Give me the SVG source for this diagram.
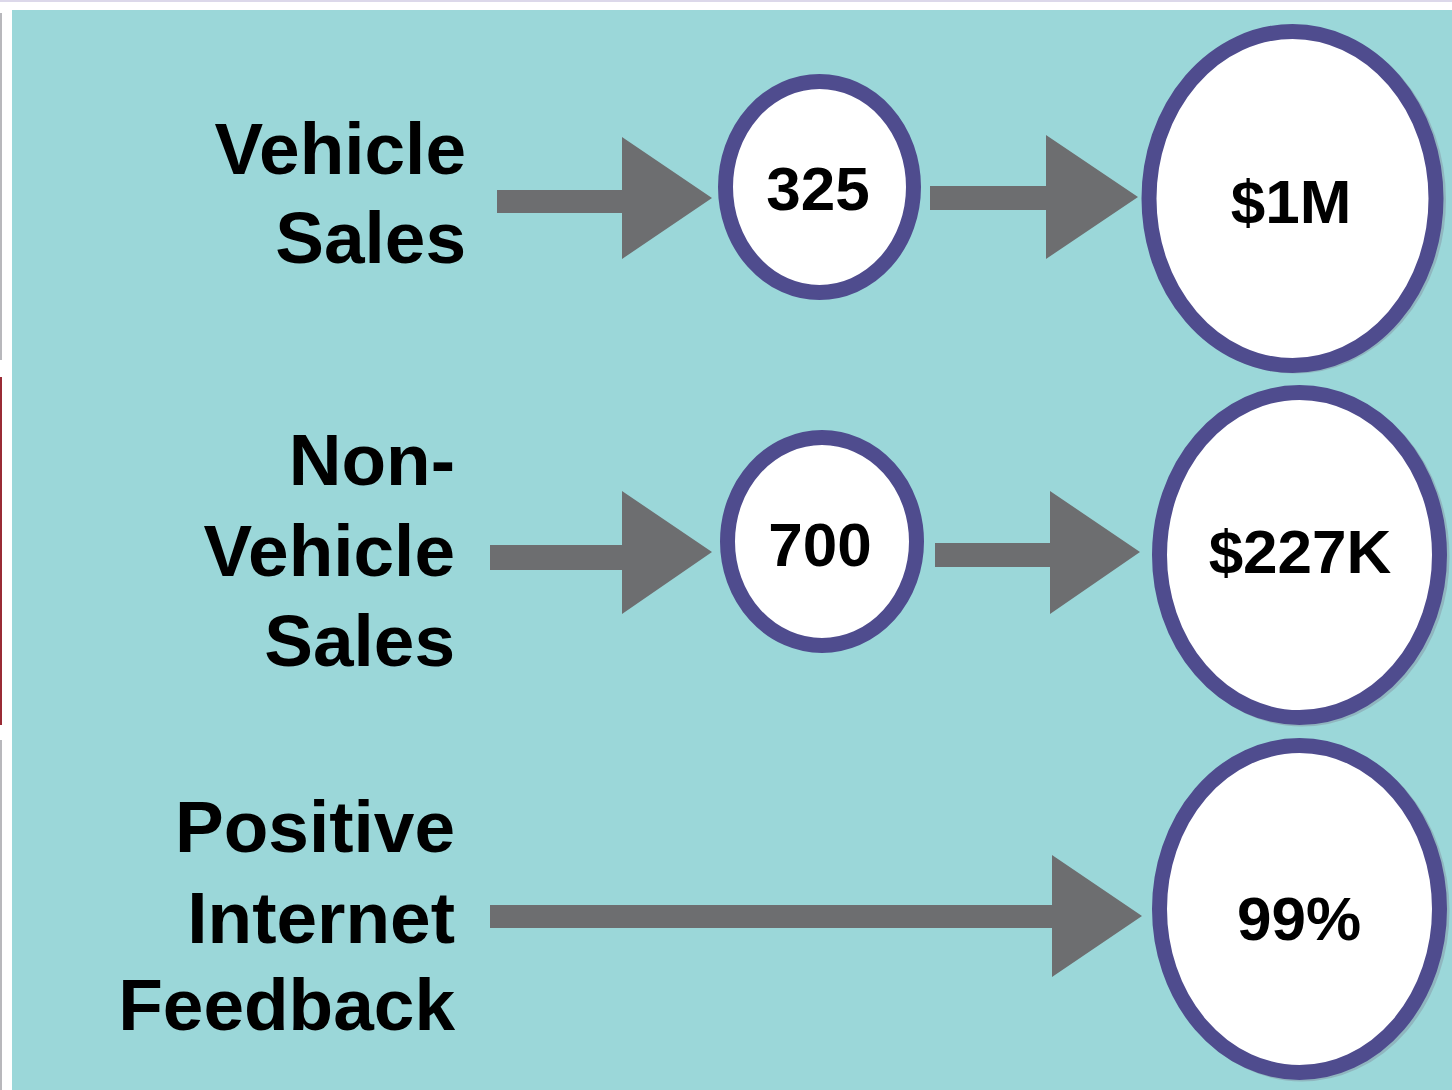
<svg xmlns="http://www.w3.org/2000/svg" width="1452" height="1090" viewBox="0 0 1452 1090">
<defs>
<style>
.lbl{font-family:"Liberation Sans",Arial,sans-serif;font-weight:bold;font-size:73px;fill:#000;text-anchor:end}
.num{font-family:"Liberation Sans",Arial,sans-serif;font-weight:bold;font-size:62px;fill:#000;text-anchor:middle}
.ring{fill:#fff;stroke:#4F4C8E;stroke-width:15}
.shadow{fill:none;stroke:#7a7890;stroke-width:15;opacity:0.35}
.arrow{fill:#6D6E70}
</style>
</defs>
<rect x="0" y="0" width="1452" height="1090" fill="#fff"/>
<rect x="0" y="0" width="1452" height="2" fill="#dcd8ea"/>
<rect x="0" y="13" width="2" height="347" fill="#b8b8bc"/>
<rect x="0" y="377" width="2" height="348" fill="#9a2b35"/>
<rect x="0" y="740" width="2" height="350" fill="#b8b8bc"/>
<rect x="12" y="10" width="1440" height="1080" fill="#9BD7D9"/>

<g id="labels">
<g id="label-vehicle"><text class="lbl" x="466" y="174">Vehicle</text><text class="lbl" x="466" y="263">Sales</text></g>
<g id="label-nonvehicle"><text class="lbl" x="455" y="485">Non-</text><text class="lbl" x="455" y="576">Vehicle</text><text class="lbl" x="455" y="666">Sales</text></g>
<g id="label-feedback"><text class="lbl" x="455" y="852">Positive</text><text class="lbl" x="455" y="943">Internet</text><text class="lbl" x="455" y="1030">Feedback</text></g>
</g>

<g id="connectors">
<polygon class="arrow" points="497,190 622,190 622,137 712,198 622,259 622,213 497,213"/>
<polygon class="arrow" points="930,186 1046,186 1046,135 1138,197 1046,259 1046,210 930,210"/>
<polygon class="arrow" points="490,545 622,545 622,491 712,552 622,614 622,570 490,570"/>
<polygon class="arrow" points="935,543 1050,543 1050,491 1140,552 1050,614 1050,567 935,567"/>
<polygon class="arrow" points="490,905 1052,905 1052,855 1142,916 1052,977 1052,928 490,928"/>
</g>

<g id="node-325"><ellipse class="ring" cx="819.5" cy="187" rx="94" ry="105.5"/><text class="num" x="818" y="210">325</text></g>
<g id="node-1m"><ellipse class="shadow" cx="1295" cy="200" rx="143.5" ry="166"/><ellipse class="ring" cx="1292.5" cy="198.5" rx="143.5" ry="167"/><text class="num" x="1291" y="223">$1M</text></g>
<g id="node-700"><ellipse class="ring" cx="822" cy="541.5" rx="94.5" ry="104"/><text class="num" x="820" y="566">700</text></g>
<g id="node-227k"><ellipse class="shadow" cx="1302" cy="557" rx="140" ry="162"/><ellipse class="ring" cx="1299.5" cy="555" rx="140" ry="162.5"/><text class="num" x="1300" y="573">$227K</text></g>
<g id="node-99"><ellipse class="shadow" cx="1302" cy="911" rx="140" ry="163"/><ellipse class="ring" cx="1299.5" cy="909" rx="140" ry="163.5"/><text class="num" x="1299" y="940">99%</text></g>
</svg>
